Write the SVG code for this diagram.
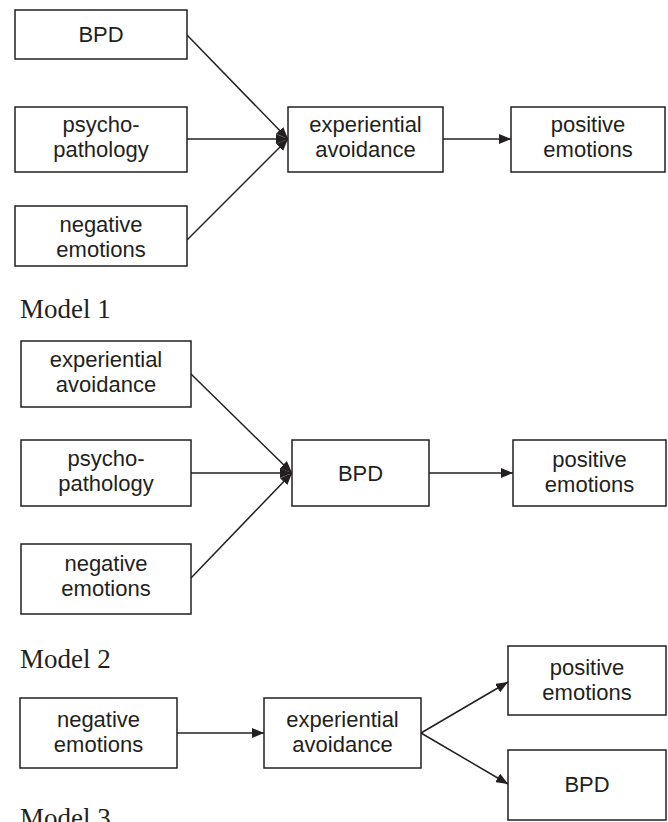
<svg xmlns="http://www.w3.org/2000/svg" width="668" height="822" viewBox="0 0 668 822">
<style>
.box{fill:#fff;stroke:#231f20;stroke-width:1.5}
.t{font-family:"Liberation Sans",Arial,sans-serif;font-size:22px;fill:#231f20;text-anchor:middle}
.lbl{font-family:"Liberation Serif","Times New Roman",serif;font-size:27px;fill:#231f20}
.edge{stroke:#231f20;stroke-width:1.5;fill:none;marker-end:url(#ah)}
</style>
<defs>
<marker id="ah" markerUnits="userSpaceOnUse" markerWidth="12" markerHeight="10" refX="12" refY="5" orient="auto">
<path d="M0,0 L12,5 L0,10 z" fill="#231f20"/>
</marker>
</defs>
<rect width="668" height="822" fill="#fff"/>

<g id="connectors">
<line class="edge" x1="187" y1="35" x2="288" y2="139"/>
<line class="edge" x1="187" y1="139" x2="288" y2="139"/>
<line class="edge" x1="187" y1="240" x2="288" y2="139"/>
<line class="edge" x1="443" y1="139" x2="511" y2="139"/>
<line class="edge" x1="191" y1="374" x2="292" y2="473"/>
<line class="edge" x1="191" y1="473" x2="292" y2="473"/>
<line class="edge" x1="191" y1="578" x2="292" y2="473"/>
<line class="edge" x1="429" y1="473" x2="513" y2="473"/>
<line class="edge" x1="177" y1="733" x2="264" y2="733"/>
<line class="edge" x1="421" y1="733" x2="508" y2="682"/>
<line class="edge" x1="421" y1="733" x2="508" y2="784"/>
</g>

<g id="m1-bpd"><rect class="box" x="15" y="10" width="172" height="49"/><text class="t" x="101" y="42">BPD</text></g>
<g id="m1-psy"><rect class="box" x="15" y="107" width="172" height="65"/><text class="t" x="101" y="132">psycho-</text><text class="t" x="101" y="157">pathology</text></g>
<g id="m1-neg"><rect class="box" x="15" y="206" width="172" height="60"/><text class="t" x="101" y="232">negative</text><text class="t" x="101" y="257">emotions</text></g>
<g id="m1-exp"><rect class="box" x="288" y="107" width="155" height="65"/><text class="t" x="365.5" y="132">experiential</text><text class="t" x="365.5" y="157">avoidance</text></g>
<g id="m1-pos"><rect class="box" x="511" y="107" width="154" height="65"/><text class="t" x="588" y="132">positive</text><text class="t" x="588" y="157">emotions</text></g>
<text class="lbl" x="20" y="318">Model 1</text>

<g id="m2-exp"><rect class="box" x="21" y="341" width="170" height="66"/><text class="t" x="106" y="367">experiential</text><text class="t" x="106" y="392">avoidance</text></g>
<g id="m2-psy"><rect class="box" x="21" y="440" width="170" height="66"/><text class="t" x="106" y="466">psycho-</text><text class="t" x="106" y="491">pathology</text></g>
<g id="m2-neg"><rect class="box" x="21" y="544" width="170" height="70"/><text class="t" x="106" y="571">negative</text><text class="t" x="106" y="596">emotions</text></g>
<g id="m2-bpd"><rect class="box" x="292" y="440" width="137" height="66"/><text class="t" x="360.5" y="481">BPD</text></g>
<g id="m2-pos"><rect class="box" x="513" y="440" width="153" height="66"/><text class="t" x="589.5" y="467">positive</text><text class="t" x="589.5" y="492">emotions</text></g>
<text class="lbl" x="20" y="668">Model 2</text>

<g id="m3-neg"><rect class="box" x="20" y="698" width="157" height="70"/><text class="t" x="98.5" y="727">negative</text><text class="t" x="98.5" y="752">emotions</text></g>
<g id="m3-exp"><rect class="box" x="264" y="698" width="157" height="70"/><text class="t" x="342.5" y="727">experiential</text><text class="t" x="342.5" y="752">avoidance</text></g>
<g id="m3-pos"><rect class="box" x="508" y="646" width="158" height="69"/><text class="t" x="587" y="675">positive</text><text class="t" x="587" y="700">emotions</text></g>
<g id="m3-bpd"><rect class="box" x="508" y="750" width="158" height="70"/><text class="t" x="587" y="792">BPD</text></g>
<text class="lbl" x="20" y="827">Model 3</text>
</svg>
